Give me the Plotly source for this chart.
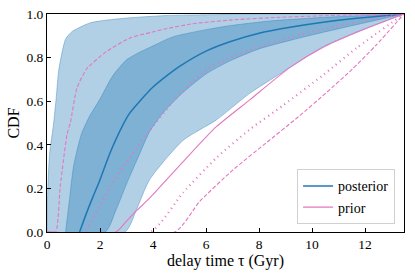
import plotly.graph_objects as go

T_MAX = 13.47

# posterior outer band edges
outer_hi_x = [0.0, 0.03, 0.1, 0.25, 0.35, 0.44, 0.7, 0.95, 1.64, 2.88, 4.5, 7.0, 13.47]
outer_hi_y = [0.0, 0.2, 0.36, 0.5, 0.62, 0.74, 0.885, 0.92, 0.96, 0.98, 0.993, 0.998, 1.0]
outer_lo_x = [0.0, 2.95, 3.4, 3.87, 5.13, 6.39, 7.65, 9.17, 10.42, 11.69, 13.47]
outer_lo_y = [0.0, 0.0, 0.11, 0.24, 0.42, 0.514, 0.636, 0.755, 0.85, 0.918, 1.0]

# posterior inner band edges
inner_hi_x = [0.7, 0.85, 1.0, 1.3, 1.6, 2.0, 2.26, 2.5, 3.0, 3.5, 3.9, 4.77, 6.65, 8.4, 10.5, 13.47]
inner_hi_y = [0.0, 0.15, 0.3, 0.45, 0.53, 0.61, 0.67, 0.72, 0.79, 0.825, 0.848, 0.896, 0.942, 0.968, 0.985, 1.0]
inner_lo_x = [0.0, 2.2, 2.6, 3.0, 3.5, 3.87, 4.4, 5.13, 6.0, 6.9, 8.0, 9.17, 10.42, 12.0, 13.47]
inner_lo_y = [0.0, 0.0, 0.1, 0.22, 0.36, 0.46, 0.55, 0.64, 0.725, 0.785, 0.84, 0.879, 0.916, 0.96, 1.0]

# posterior median
post_x = [1.23, 1.5, 1.73, 2.0, 2.37, 2.86, 3.12, 3.5, 4.0, 4.5, 5.0, 6.0, 6.9, 8.0, 9.17, 10.42, 11.69, 13.47]
post_y = [0.0, 0.09, 0.16, 0.24, 0.36, 0.49, 0.545, 0.6, 0.665, 0.715, 0.76, 0.83, 0.873, 0.912, 0.939, 0.962, 0.98, 1.0]

# prior median
prior_x = [0.0, 2.6, 3.0, 3.4, 3.87, 5.13, 6.39, 7.65, 9.17, 10.42, 11.69, 13.47]
prior_y = [0.0, 0.0, 0.05, 0.1, 0.155, 0.322, 0.483, 0.606, 0.755, 0.847, 0.916, 1.0]

# prior inner range (dotted)
prior68_hi_x = [0.0, 1.38, 1.9, 2.39, 2.9, 3.4, 3.9, 4.77, 5.5, 6.0, 6.9, 8.0, 9.17, 10.42, 11.69, 13.47]
prior68_hi_y = [0.0, 0.0, 0.1, 0.21, 0.3, 0.39, 0.47, 0.6, 0.69, 0.745, 0.8, 0.85, 0.893, 0.931, 0.962, 1.0]
prior68_lo_x = [0.0, 3.9, 5.13, 6.39, 7.65, 8.9, 10.42, 11.69, 13.47]
prior68_lo_y = [0.0, 0.0, 0.18, 0.34, 0.47, 0.58, 0.72, 0.845, 1.0]

# prior outer range (dashed)
prior90_hi_x = [0.0, 0.32, 0.5, 0.76, 0.88, 1.13, 1.51, 2.26, 3.14, 3.9, 4.4, 5.5, 6.9, 8.8, 11.0, 13.47]
prior90_hi_y = [0.0, 0.0, 0.21, 0.45, 0.5, 0.66, 0.75, 0.829, 0.89, 0.915, 0.93, 0.955, 0.972, 0.985, 0.994, 1.0]
prior90_lo_x = [0.0, 4.82, 5.76, 7.02, 8.28, 9.5, 10.5, 11.5, 12.4, 13.47]
prior90_lo_y = [0.0, 0.0, 0.14, 0.285, 0.41, 0.53, 0.635, 0.745, 0.855, 1.0]

x_ticks = [0, 2, 4, 6, 8, 10, 12]
y_ticks = [0.0, 0.2, 0.4, 0.6, 0.8, 1.0]

BLUE = "#1f77b4"
PINK = "#e377c2"
FILL = "rgba(31,119,180,0.35)"
EDGE = "rgba(31,119,180,0.45)"
SMOOTH = 0.6

fig = go.Figure()

def band(hx, hy, lx, ly):
    fig.add_trace(go.Scatter(x=lx, y=ly, mode="lines", showlegend=False, hoverinfo="skip",
                             line=dict(color=EDGE, width=0.8, shape="spline", smoothing=SMOOTH)))
    fig.add_trace(go.Scatter(x=hx, y=hy, mode="lines", fill="tonexty", fillcolor=FILL,
                             showlegend=False, hoverinfo="skip",
                             line=dict(color=EDGE, width=0.8, shape="spline", smoothing=SMOOTH)))

band(outer_hi_x, outer_hi_y, outer_lo_x, outer_lo_y)
band(inner_hi_x, inner_hi_y, inner_lo_x, inner_lo_y)

fig.add_trace(go.Scatter(x=post_x, y=post_y, mode="lines", name="posterior",
                         line=dict(color=BLUE, width=1.5, shape="spline", smoothing=SMOOTH)))
fig.add_trace(go.Scatter(x=prior_x, y=prior_y, mode="lines", name="prior",
                         line=dict(color=PINK, width=1.1, shape="spline", smoothing=SMOOTH)))
for xs, ys in [(prior68_hi_x, prior68_hi_y), (prior68_lo_x, prior68_lo_y)]:
    fig.add_trace(go.Scatter(x=xs, y=ys, mode="lines", showlegend=False,
                             line=dict(color=PINK, width=2.2, dash="1px,4px",
                                       shape="spline", smoothing=SMOOTH)))
for xs, ys in [(prior90_hi_x, prior90_hi_y), (prior90_lo_x, prior90_lo_y)]:
    fig.add_trace(go.Scatter(x=xs, y=ys, mode="lines", showlegend=False,
                             line=dict(color=PINK, width=1.1, dash="4px,2px",
                                       shape="spline", smoothing=SMOOTH)))

FONT = "Liberation Serif, DejaVu Serif, serif"
fig.update_layout(
    width=415, height=277,
    margin=dict(l=47, r=11, t=14, b=45),
    paper_bgcolor="white", plot_bgcolor="white",
    font=dict(family=FONT, size=14, color="black"),
    showlegend=True,
    legend=dict(x=0.975, y=0.035, xanchor="right", yanchor="bottom", traceorder="normal",
                bgcolor="rgba(255,255,255,0.8)", bordercolor="#d0d0d0", borderwidth=1,
                font=dict(family=FONT, size=14), tracegroupgap=0, itemwidth=30),
    xaxis=dict(range=[0, T_MAX], tickvals=x_ticks, ticks="inside", ticklen=4,
               tickcolor="black", showline=True, linecolor="black", linewidth=1,
               mirror=True, showgrid=False, zeroline=False, automargin=False,
               tickfont=dict(family=FONT, size=13.5),
               title=dict(text="delay time τ (Gyr)", font=dict(family=FONT, size=16), standoff=0)),
    yaxis=dict(range=[0, 1], tickvals=y_ticks, ticktext=[f"{v:.1f}" for v in y_ticks],
               ticks="inside", ticklen=4, tickcolor="black", showline=True,
               linecolor="black", linewidth=1, mirror=True, showgrid=False, zeroline=False,
               automargin=False, tickfont=dict(family=FONT, size=13.5),
               title=dict(text="CDF", font=dict(family=FONT, size=16), standoff=2)),
)

fig.write_html("out.html", config={"displayModeBar": False},
               post_script="document.body.style.margin='0';")
